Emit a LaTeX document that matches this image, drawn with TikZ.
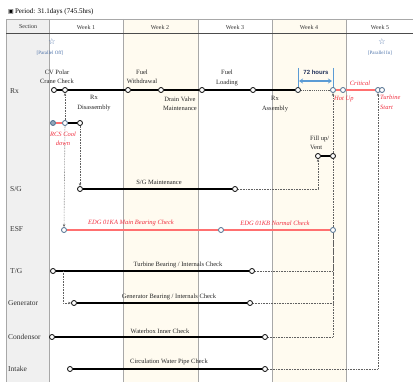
\documentclass[tikz,border=0pt]{standalone}
\usepackage{fontspec}
\setmainfont{Liberation Serif}
\newfontfamily\symf{DejaVu Sans}
\newfontfamily\hf{Liberation Sans}
\usetikzlibrary{arrows.meta}
\definecolor{cream}{HTML}{FFFBF0}
\definecolor{secgray}{HTML}{F0F0F0}
\definecolor{gridgray}{HTML}{A8A8A8}
\definecolor{bluec}{HTML}{5B9BD5}
\definecolor{nodeblue}{HTML}{4A6A8A}
\definecolor{redl}{HTML}{FF7070}
\definecolor{redt}{HTML}{F03040}
\definecolor{dotc}{HTML}{606060}
\definecolor{navy}{HTML}{203058}
\definecolor{starc}{HTML}{4A70A8}
\tikzset{
  pt/.style={circle, draw=black, fill=white, inner sep=0pt, minimum size=5pt, line width=0.8pt},
  bpt/.style={pt, draw=nodeblue},
  fpt/.style={pt, draw=nodeblue, fill=nodeblue!60},
  mainln/.style={line width=1.4pt, black},
  redln/.style={line width=2pt, redl},
  dotln/.style={dotc, densely dotted, line width=0.6pt},
  dotarr/.style={dotln, -{Stealth[length=3pt,width=2.4pt]}},
  lbl/.style={font=\fontsize{6.5}{9.5}\selectfont, align=center, inner sep=0pt, text=black!85},
  rlbl/.style={font=\fontsize{6.5}{9.5}\selectfont\itshape, align=center, inner sep=0pt, text=redt},
  rowl/.style={font=\fontsize{7.5}{9}\selectfont, anchor=west, inner sep=0pt, text=black!80},
  hdr/.style={font=\fontsize{6}{7}\selectfont, inner sep=0pt, text=black!80},
  grid/.style={gridgray, line width=0.7pt},
}
\begin{document}
\begin{tikzpicture}[x=1pt,y=-1pt]
\useasboundingbox (0,0) rectangle (413,382);
% backgrounds
\fill[secgray] (6,19) rectangle (49,382);
\fill[cream] (123,19) rectangle (198,382);
\fill[cream] (272,19) rectangle (346,382);
% grid
\foreach \x in {6,49,123,198,272,346} \draw[grid] (\x,19) -- (\x,382);
\draw[grid] (6,19) -- (413,19);
\draw[black!70, line width=0.8pt] (6,33) -- (413,33);
% title
\node[anchor=west, inner sep=0pt, font=\fontsize{7}{8}\selectfont] (title) at (8,12) {{\symf\fontsize{6}{7}\selectfont ▣}\,Period: 31.1days (745.5hrs)};
% header
\node[hdr] (hsec) at (28,27) {Section};
\node[hdr] (hw1) at (86,27) {Week 1};
\node[hdr] (hw2) at (160,27) {Week 2};
\node[hdr] (hw3) at (235,27) {Week 3};
\node[hdr] (hw4) at (309,27) {Week 4};
\node[hdr] (hw5) at (380,27) {Week 5};
% row labels
\node[rowl] (lrx) at (10,91) {Rx};
\node[rowl] (lsg) at (10,189) {S/G};
\node[rowl] (lesf) at (10,229) {ESF};
\node[rowl] (ltg) at (10,271) {T/G};
\node[rowl] (lgen) at (8,303) {Generator};
\node[rowl] (lcon) at (8,337) {Condensor};
\node[rowl] (lint) at (8,369) {Intake};
% stars
\node[inner sep=0pt, text=starc, font=\symf\fontsize{8}{8}\selectfont] (star1) at (52,42) {☆};
\node[inner sep=0pt, text=starc, font=\fontsize{5}{6}\selectfont] (poff) at (50,53) {[Parallel Off]};
\node[inner sep=0pt, text=starc, font=\symf\fontsize{8}{8}\selectfont] (star2) at (382,42) {☆};
\node[inner sep=0pt, text=starc, font=\fontsize{5}{6}\selectfont] (pin) at (380,53) {[Parallel In]};
% 72 hours bracket
\coordinate (bl1) at (298,68); \coordinate (bl2) at (298,90);
\coordinate (br1) at (333,68); \coordinate (br2) at (333,90);
\draw[bluec, line width=1pt] (bl1) -- (bl2);
\draw[bluec, line width=1pt] (br1) -- (br2);
\coordinate (ba1) at (299,81); \coordinate (ba2) at (332,81);
\draw[bluec, line width=1.2pt, {Stealth[length=4pt,width=5pt]}-{Stealth[length=4pt,width=5pt]}] (ba1) -- (ba2);
\node[inner sep=0pt, text=navy, font=\hf\bfseries\fontsize{6}{7}\selectfont] (h72) at (316,72) {72 hours};
% Rx row nodes
\node[pt] (r1) at (54,90) {};
\node[pt] (r2) at (65,90) {};
\node[pt] (r3) at (128,90) {};
\node[pt] (r4) at (161,90) {};
\node[pt] (r5) at (202,90) {};
\node[pt] (r6) at (253,90) {};
\node[pt, draw=black!75!nodeblue] (r7) at (298,90) {};
\node[bpt] (r8) at (333,90) {};
\node[bpt] (r9) at (343,90) {};
\node[bpt] (r10) at (378,90) {};
\node[bpt] (r11) at (382,90) {};
% RCS
\node[fpt] (c1) at (53,123) {};
\node[bpt] (c2) at (65,123) {};
\node[pt] (c3) at (80,123) {};
% S/G
\node[pt] (s1) at (80,189) {};
\node[pt] (s2) at (235,189) {};
% fill/vent
\node[pt] (f1) at (318,156) {};
\node[pt] (f2) at (333,156) {};
% ESF
\node[bpt] (e1) at (64,230) {};
\node[bpt] (e2) at (221,230) {};
\node[bpt] (e3) at (333,230) {};
% T/G etc
\node[pt] (t1) at (53,271) {};
\node[pt] (t2) at (252,271) {};
\node[pt] (g1) at (74,303) {};
\node[pt] (g2) at (250,303) {};
\node[pt] (d1) at (52,337) {};
\node[pt] (d2) at (265,337) {};
\node[pt] (i1) at (70,369) {};
\node[pt] (i2) at (265,369) {};
% solid lines
\draw[mainln] (r1) -- (r2) -- (r3) -- (r4) -- (r5) -- (r6) -- (r7);
\draw[dotln, line width=0.9pt] (r7) -- (r8);
\draw[redln] (r8) -- (r9) -- (r10);
\draw[redln] (c1) -- (c2);
\draw[mainln] (c2) -- (c3);
\draw[mainln] (s1) -- (s2);
\draw[mainln] (f1) -- (f2);
\draw[redln] (e1) -- (e2) -- (e3);
\draw[mainln] (t1) -- (t2);
\draw[mainln] (g1) -- (g2);
\draw[mainln] (d1) -- (d2);
\draw[mainln] (i1) -- (i2);
% dotted connectors
\draw[dotarr] (c2) -- (r2);
\draw[dotarr] (c2) -- (e1);
\draw[dotarr] (c3) -- (s1);
\draw[dotarr] (s2) -| (f1);
\draw[dotarr] (f2) -- (r8);
\draw[dotln] (e3) -- (f2);
\draw[dotln] (t2) -| (e3);
\draw[dotln] (g2) -| (e3);
\draw[dotln] (d2) -| (e3);
\draw[dotarr] (i2) -| (r10);
\coordinate (tgj) at (63,271);
\draw[dotarr] (tgj) |- (g1);
% labels
\node[lbl] (tcv) at (57,77) {CV Polar\\Crane Check};
\node[lbl] (trxd) at (94,103) {Rx\\Disassembly};
\node[lbl] (tfw) at (142,77) {Fuel\\Withdrawal};
\node[lbl] (tdv) at (180,104) {Drain Valve\\Maintenance};
\node[lbl] (tfl) at (227,78) {Fuel\\Loading};
\node[lbl] (trxa) at (275,104) {Rx\\Assembly};
\node[rlbl] (tcrit) at (360,83) {Critical};
\node[rlbl, anchor=west] (thot) at (334,99) {Hot Up};
\node[rlbl, align=left, anchor=north west] (tts) at (380,95) {Turbine\\Start};
\node[rlbl] (trcs) at (63,139) {RCS Cool\\down};
\node[lbl, align=left, anchor=west] (tfill) at (310,143) {Fill up/\\Vent};
\node[lbl] (tsg) at (159,182) {S/G Maintenance};
\node[rlbl] (tedga) at (131,223) {EDG 01KA Main Bearing Check};
\node[rlbl] (tedgb) at (275,223) {EDG 01KB Normal Check};
\node[lbl] (ttg) at (178,265) {Turbine Bearing / Internals Check};
\node[lbl] (tgen) at (169,297) {Generator Bearing / Internals Check};
\node[lbl] (tcon) at (160,331) {Waterbox Inner Check};
\node[lbl] (tint) at (169,362) {Circulation Water Pipe Check};
\end{tikzpicture}
\end{document}
